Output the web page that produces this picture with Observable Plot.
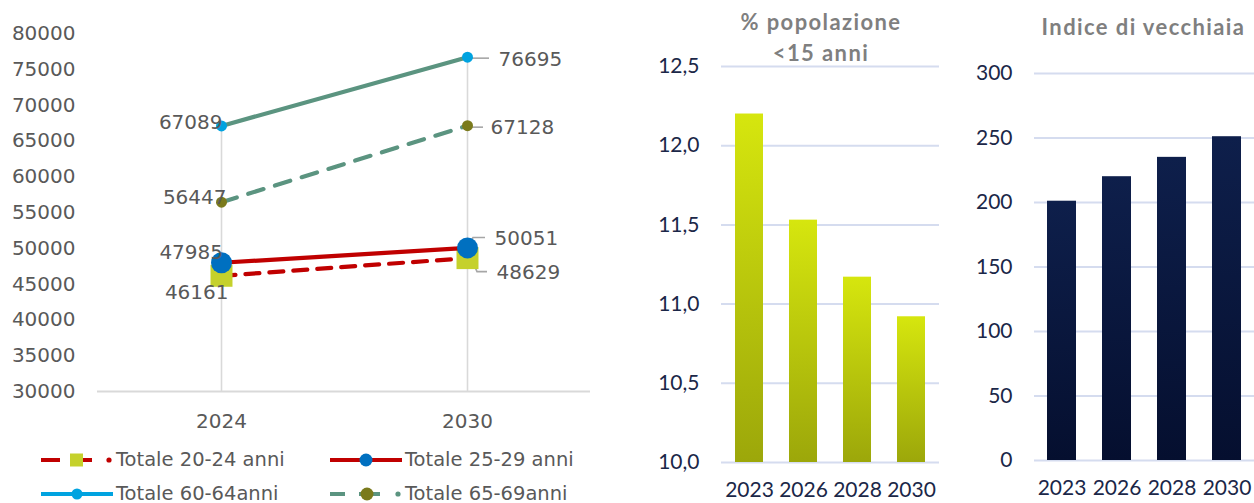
<!DOCTYPE html>
<html><head><meta charset="utf-8">
<script src="https://cdn.jsdelivr.net/npm/d3@7"></script>
<script src="https://cdn.jsdelivr.net/npm/@observablehq/plot@0.6"></script>
<style>
html,body{margin:0;padding:0;background:#fff;}
#root{position:relative;width:1254px;height:503px;overflow:hidden;background:#fff;}
.panel{position:absolute;top:0;}
.title{position:absolute;font-family:Lato,sans-serif;font-weight:bold;font-size:22px;letter-spacing:1.4px;color:#7f7f7f;text-align:center;line-height:31px;white-space:nowrap;}
.leg{position:absolute;font-family:"DejaVu Sans",sans-serif;font-size:19.5px;color:#595959;white-space:nowrap;height:24px;line-height:24px;}
.leg svg{position:absolute;left:0;top:2px;}
.leg span{position:absolute;top:0;}
</style></head><body><div id="root"></div>
<script>
// ---------- data ----------
const years = ["2024", "2030"];
const series = ["Totale 20-24 anni", "Totale 25-29 anni", "Totale 60-64anni", "Totale 65-69anni"];
const v2024 = [46161, 47985, 67089, 56447];
const v2030 = [48629, 50051, 76695, 67128];
const leftTicks = [30000, 35000, 40000, 45000, 50000, 55000, 60000, 65000, 70000, 75000, 80000];

const barYears = ["2023", "2026", "2028", "2030"];
const pctUnder15 = [12.2, 11.53, 11.17, 10.92];
const pctTicks = [10, 10.5, 11, 11.5, 12, 12.5];
const oldAgeIndex = [201, 220, 235, 251];
const oldTicks = [0, 50, 100, 150, 200, 250, 300];

// ---------- styles ----------
const seriesStyle = {
  "Totale 20-24 anni": {stroke: "#c00000", dash: "14,10", symbol: "square", fill: "#c5d12c", r: 12.4,
    lab: [{anchor: "end", dx: 7, dy: 17}, {anchor: "start", dx: 29, dy: 14}], leader: [[1, -7], [10, 14], [20, 14]]},
  "Totale 25-29 anni": {stroke: "#c00000", dash: null, symbol: "circle", fill: "#0070c0", r: 10.5,
    lab: [{anchor: "end", dx: 1.5, dy: -10}, {anchor: "start", dx: 27, dy: -9.5}], leader: [[1, 1], [6, -10], [18, -10]]},
  "Totale 60-64anni": {stroke: "#5b9480", dash: null, symbol: "circle", fill: "#00a3e0", r: 5.5,
    lab: [{anchor: "end", dx: 1, dy: -3}, {anchor: "start", dx: 31, dy: 2}], leader: [[0, 1.5], [22, 1.5]]},
  "Totale 65-69anni": {stroke: "#5b9480", dash: "16,12", symbol: "circle", fill: "#7a7a1c", r: 5.5,
    lab: [{anchor: "end", dx: 5, dy: -5}, {anchor: "start", dx: 23, dy: 2}], leader: [[5, 2], [16, 2]]}
};
const legendStyle = {
  "Totale 20-24 anni": {left: 41, top: 448, line: "#c00000", dash: "19,10,22,100", marker: "square", mfill: "#c5d12c", mx: 35.5, ms: 13, dot: true},
  "Totale 25-29 anni": {left: 330, top: 448, line: "#c00000", dash: null, marker: "circle", mfill: "#0070c0", mx: 36, ms: 6.5, dot: false},
  "Totale 60-64anni": {left: 41, top: 482, line: "#00a3e0", dash: null, marker: "circle", mfill: "#00a3e0", mx: 36, ms: 5.5, dot: false},
  "Totale 65-69anni": {left: 330, top: 482, line: "#5b9480", dash: "15,14,21,100", marker: "circle", mfill: "#7a7a1c", mx: 37, ms: 6.5, dot: true}
};

const root = document.getElementById("root");
function place(node, left, top) {
  node.classList.add("panel");
  node.style.left = left + "px";
  node.style.top = top + "px";
  root.appendChild(node);
}

// ---------- left line chart ----------
const lineData = [];
series.forEach((s, i) => {
  lineData.push({series: s, year: years[0], value: v2024[i]});
  lineData.push({series: s, year: years[1], value: v2030[i]});
});
const dropData = years.map((y, j) => ({year: y, max: d3.max(j === 0 ? v2024 : v2030)}));

const leaders = (index, scales) => {
  const g = d3.create("svg:g").attr("fill", "none").attr("stroke", "#a6a6a6").attr("stroke-width", 1.6);
  series.forEach((s, i) => {
    const px = scales.x(years[1]), py = scales.y(v2030[i]);
    const pts = seriesStyle[s].leader.map(([dx, dy]) => [px + dx, py + dy]);
    g.append("path").attr("d", d3.line()(pts));
  });
  return g.node();
};

const lineMarks = [];
series.forEach((s) => {
  const st = seriesStyle[s];
  const d = lineData.filter(r => r.series === s);
  lineMarks.push(Plot.line(d, {x: "year", y: "value", stroke: st.stroke, strokeWidth: 4.2, strokeDasharray: st.dash ?? undefined}));
  lineMarks.push(Plot.dot(d, {x: "year", y: "value", symbol: st.symbol, r: st.r, fill: st.fill, stroke: "none"}));
});
const textMarks = [];
series.forEach((s) => {
  const st = seriesStyle[s];
  const d = lineData.filter(r => r.series === s);
  d.forEach((r, j) => {
    textMarks.push(Plot.text([r], {x: "year", y: "value", text: q => String(q.value), textAnchor: st.lab[j].anchor,
      dx: st.lab[j].dx, dy: st.lab[j].dy, fill: "#595959", fontSize: 20}));
  });
});

const left = Plot.plot({
  width: 620, height: 440,
  marginLeft: 97, marginRight: 30, marginTop: 33, marginBottom: 49,
  style: {fontFamily: "DejaVu Sans", fontSize: "20px", color: "#595959", background: "transparent", overflow: "visible"},
  x: {type: "point", domain: years, padding: 0.5, label: null},
  y: {domain: [30000, 80000], label: null},
  marks: [
    Plot.ruleX(dropData, {x: "year", y1: 30000, y2: "max", stroke: "#d9d9d9", strokeWidth: 1.6}),
    Plot.ruleY([30000], {stroke: "#d9d9d9", strokeWidth: 2.2}),
    leaders,
    ...lineMarks,
    ...textMarks,
    Plot.axisY(leftTicks, {tickSize: 0, tickPadding: 22, tickFormat: d => String(d), fill: "#595959"}),
    Plot.axisX({tickSize: 0, tickPadding: 22, fill: "#595959"})
  ]
});
place(left, 0, 0);

// legend
series.forEach((s) => {
  const L = legendStyle[s];
  const div = document.createElement("div");
  div.className = "leg";
  div.style.left = L.left + "px";
  div.style.top = L.top + "px";
  const sw = d3.create("svg").attr("width", 74).attr("height", 20);
  sw.append("line").attr("x1", 0).attr("x2", 72).attr("y1", 10).attr("y2", 10)
    .attr("stroke", L.line).attr("stroke-width", 4.2).attr("stroke-dasharray", L.dash);
  if (L.dot) sw.append("circle").attr("cx", 68).attr("cy", 10).attr("r", 2.6).attr("fill", L.line);
  if (L.marker === "square") sw.append("rect").attr("x", L.mx - L.ms / 2).attr("y", 10 - L.ms / 2).attr("width", L.ms).attr("height", L.ms).attr("fill", L.mfill);
  else sw.append("circle").attr("cx", L.mx).attr("cy", 10).attr("r", L.ms).attr("fill", L.mfill);
  div.appendChild(sw.node());
  const sp = document.createElement("span");
  sp.style.left = "75px";
  sp.textContent = s;
  div.appendChild(sp);
  root.appendChild(div);
});

// ---------- bar panels ----------
function barPanel({id, values, ticks, domain, fmt, top, bottom, width, marginLeft, marginRight, marginTop, marginBottom, pad}) {
  const data = barYears.map((y, i) => ({year: y, value: values[i]}));
  const defs = () => {
    const d = d3.create("svg:defs");
    const g = d.append("linearGradient").attr("id", id).attr("x1", 0).attr("y1", 0).attr("x2", 0).attr("y2", 1);
    g.append("stop").attr("offset", "0%").attr("stop-color", top);
    g.append("stop").attr("offset", "100%").attr("stop-color", bottom);
    return d.node();
  };
  return Plot.plot({
    width, height: 503, marginLeft, marginRight, marginTop, marginBottom,
    style: {fontFamily: "Lato", fontSize: "21px", color: "#1b2748", background: "transparent", overflow: "visible"},
    x: {domain: barYears, paddingInner: pad, paddingOuter: pad / 2, label: null},
    y: {domain, label: null},
    marks: [
      defs,
      Plot.gridY(ticks, {stroke: "#d5dcef", strokeOpacity: 1, strokeWidth: 2}),
      Plot.barY(data, {x: "year", y1: domain[0], y2: "value", fill: `url(#${id})`}),
      Plot.axisY(ticks, {tickSize: 0, tickPadding: 22, tickFormat: fmt, fill: "#1b2748"}),
      Plot.axisX({tickSize: 0, tickPadding: 20, fill: "#1b2748"})
    ]
  });
}

const mid = barPanel({
  id: "gradGreen", values: pctUnder15, ticks: pctTicks, domain: [10, 12.5],
  fmt: d => d.toFixed(1).replace(".", ","), top: "#d6e60e", bottom: "#9ca70a",
  width: 320, marginLeft: 81, marginRight: 21, marginTop: 66, marginBottom: 41, pad: 0.49
});
place(mid, 640, 0);

const right = barPanel({
  id: "gradNavy", values: oldAgeIndex, ticks: oldTicks, domain: [0, 300],
  fmt: d => String(d), top: "#0e1f4b", bottom: "#050f2f",
  width: 294, marginLeft: 74, marginRight: 0, marginTop: 73, marginBottom: 43, pad: 0.47
});
place(right, 960, 0);

// titles
function title(lines, cx, top) {
  const div = document.createElement("div");
  div.className = "title";
  div.style.left = (cx - 150) + "px";
  div.style.width = "300px";
  div.style.top = top + "px";
  lines.forEach((t) => {
    const l = document.createElement("div");
    l.textContent = t;
    div.appendChild(l);
  });
  root.appendChild(div);
}
title(["% popolazione", "<15 anni"], 821, 5.5);
title(["Indice di vecchiaia"], 1143.5, 10.5);
</script>
</body></html>
